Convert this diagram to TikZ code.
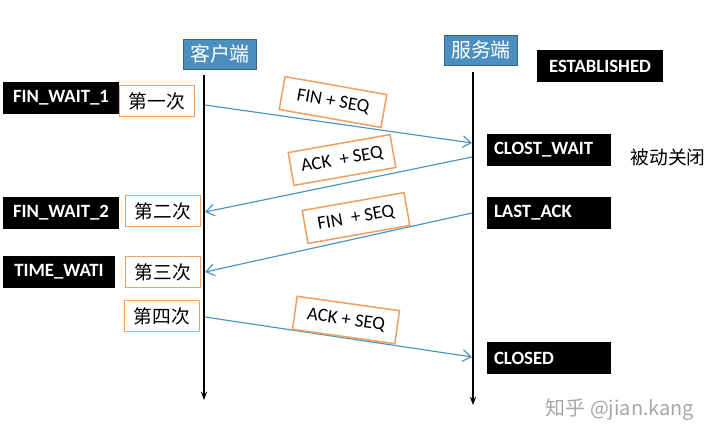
\documentclass[tikz,border=0pt]{standalone}
\usepackage{fontspec}
\setmainfont{Carlito}
\newfontfamily\cjk{Noto Sans CJK SC}
\usetikzlibrary{arrows.meta}
\definecolor{hostblue}{HTML}{4A8FC0}
\definecolor{msgblue}{HTML}{4C95C2}
\definecolor{tagorange}{HTML}{F0A060}
\tikzset{
  host/.style={draw=hostblue!70!black,fill=hostblue,text=white,font=\cjk\fontsize{17}{20}\selectfont,
    minimum width=2.2cm,minimum height=0.9cm,inner sep=1pt},
  state/.style={fill=black,text=white,font=\bfseries\fontsize{16}{19}\selectfont,minimum height=0.95cm,inner sep=2pt},
  sstate/.style={state,text width=3.3cm,align=left,inner xsep=6pt},
  tag/.style={draw=tagorange,line width=1.3pt,fill=white,font=\cjk\fontsize{16}{19}\selectfont,
    minimum width=2.25cm,minimum height=0.92cm,inner sep=1pt},
  msg/.style={draw=tagorange,line width=1.3pt,fill=white,font=\fontsize{16}{19}\selectfont,
    minimum width=3.1cm,minimum height=1.0cm,inner sep=1pt},
  flow/.style={draw=msgblue,line width=1pt,-{Straight Barb[length=2.5mm,width=3.5mm]}},
  life/.style={line width=1.5pt,-{Stealth[length=2.5mm]}}
}
\begin{document}
\begin{tikzpicture}[x=0.03cm,y=-0.03cm]
  \useasboundingbox (0,0) rectangle (720,442);
  % hosts and life lines
  \node[host] (cli) at (220,54) {客户端};
  \node[host] (srv) at (481,50) {服务端};
  \coordinate (cliTop) at (204,75);
  \coordinate (cliEnd) at (204,400);
  \coordinate (srvTop) at (473,72);
  \coordinate (srvEnd) at (473,405);
  \draw[life] (cliTop) -- (cliEnd);
  \draw[life] (srvTop) -- (srvEnd);
  % client states
  \node[state,minimum width=3.5cm] (fw1) at (61,98) {FIN\_WAIT\_1};
  \node[state,minimum width=3.5cm] (fw2) at (61,213) {FIN\_WAIT\_2};
  \node[state,minimum width=3.35cm] (tw) at (59,272) {TIME\_WATI};
  \node[tag] (t1) at (157,101) {第一次};
  \node[tag] (t2) at (163,211) {第二次};
  \node[tag] (t3) at (163,272) {第三次};
  \node[tag] (t4) at (162,316) {第四次};
  % server states
  \node[state,minimum width=3.8cm] (est) at (600,66) {ESTABLISHED};
  \node[sstate] (cw) at (549,150) {CLOST\_WAIT};
  \node[sstate] (la) at (549,213) {LAST\_ACK};
  \node[sstate] (cl) at (549,358) {CLOSED};
  \node[font=\cjk\fontsize{16}{19}\selectfont] (pas) at (668,157) {被动关闭};
  % messages
  \coordinate (a1) at (205,105); \coordinate (b1) at (472,143);
  \coordinate (a2) at (472,157); \coordinate (b2) at (205,212);
  \coordinate (a3) at (472,213); \coordinate (b3) at (205,272);
  \coordinate (a4) at (205,317); \coordinate (b4) at (472,357);
  \draw[flow] (a1) -- (b1);
  \draw[flow] (a2) -- (b2);
  \draw[flow] (a3) -- (b3);
  \draw[flow] (a4) -- (b4);
  \node[msg,rotate=-10] (m1) at (333,102) {FIN + SEQ};
  \node[msg,rotate=10] (m2) at (342,160) {ACK \ + SEQ};
  \node[msg,rotate=10] (m3) at (356,218) {FIN \ + SEQ};
  \node[msg,rotate=-8] (m4) at (346,320) {ACK + SEQ};
  % watermark
  \node[text=gray!70,font=\cjk\fontsize{17}{20}\selectfont] (wm) at (620,410) {知乎 @jian.kang};
\end{tikzpicture}
\end{document}
